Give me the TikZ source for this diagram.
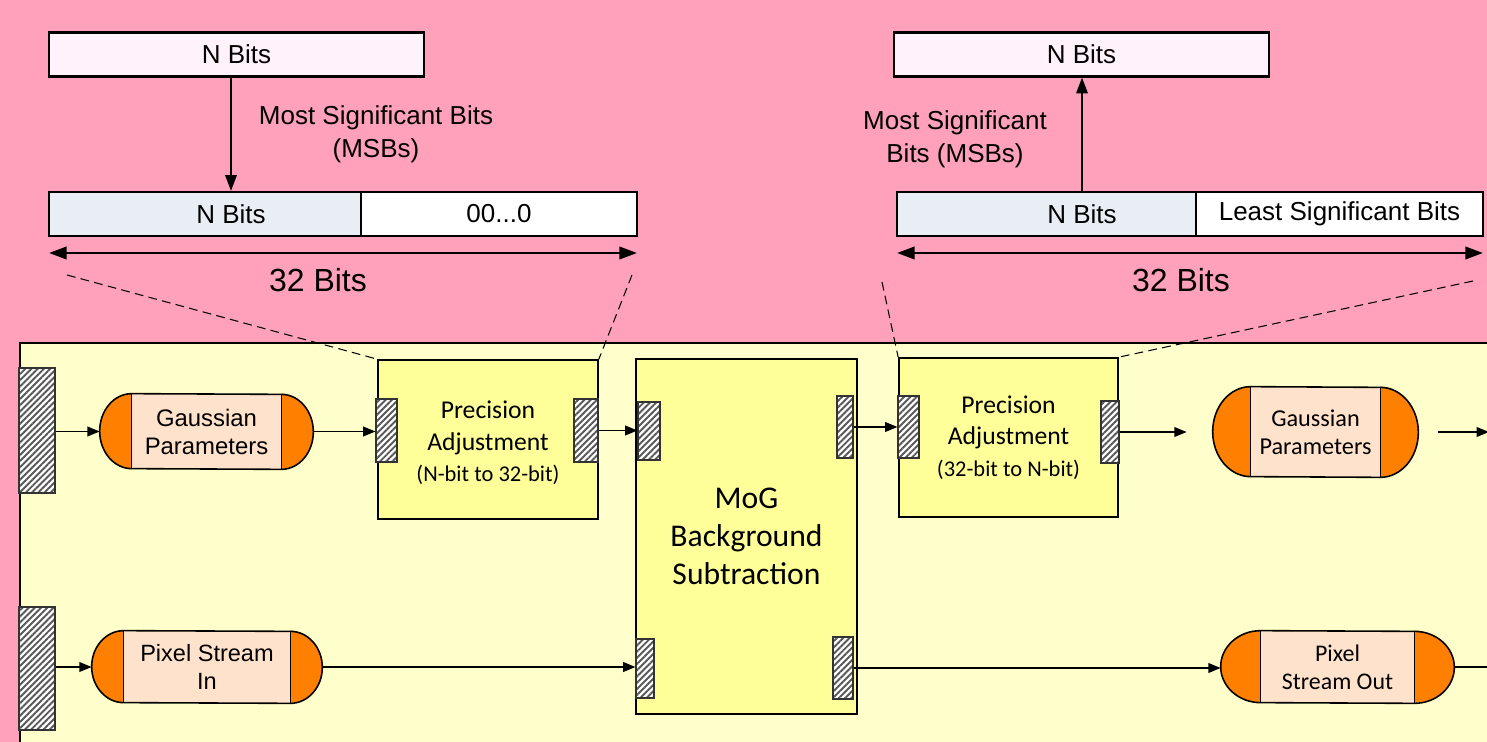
\documentclass[tikz,border=0pt]{standalone}
\usepackage{fontspec}
\setmainfont{Liberation Sans}
\newfontfamily\calibri{Carlito}
\usetikzlibrary{
    arrows.meta,
    patterns.meta,
    backgrounds,
    calc
}

\definecolor{pagepink}{RGB}{255,161,187}
\definecolor{panelyellow}{RGB}{255,255,204}
\definecolor{blockyellow}{RGB}{255,255,153}
\definecolor{caporange}{RGB}{255,128,0}
\definecolor{pillpeach}{RGB}{255,226,204}
\definecolor{wordpink}{RGB}{255,242,251}
\definecolor{msbgrey}{RGB}{232,238,244}

% capsule around a node: name, cap width, half height
\newcommand{\pill}[3]{%
    \fill[pillpeach] ([xshift=#2]#1.north west) rectangle ([xshift=-#2]#1.south east);
    \fill[caporange] ([xshift=#2]#1.north west) arc[start angle=90, end angle=270, x radius=#2, y radius=#3] -- cycle;
    \fill[caporange] ([xshift=-#2]#1.north east) arc[start angle=90, end angle=-90, x radius=#2, y radius=#3] -- cycle;
    \draw[line width=0.9pt] ([xshift=#2]#1.north west) -- ([xshift=#2]#1.south west)
        ([xshift=-#2]#1.north east) -- ([xshift=-#2]#1.south east);
    \draw[line width=0.9pt] ([xshift=#2]#1.north west) arc[start angle=90, end angle=270, x radius=#2, y radius=#3]
        -- ([xshift=-#2]#1.south east) arc[start angle=-90, end angle=90, x radius=#2, y radius=#3] -- cycle;
}

\begin{document}
\begin{tikzpicture}[x=0.02cm, y=-0.02cm,
    bitfont/.style={font=\fontsize{14.8}{18.8}\selectfont},
    bitbox/.style={bitfont, draw, line width=1.2pt, minimum height=0.88cm, inner sep=0pt},
    widthfont/.style={font=\fontsize{18.2}{20}\selectfont},
    port/.style={draw=black!80, line width=0.6pt, inner sep=0pt, preaction={fill=white},
        pattern={Lines[angle=45, distance=2.5pt, line width=1.1pt]}, pattern color=black!65},
    block/.style={draw, line width=1pt, fill=blockyellow, inner sep=0pt, align=center},
    pill/.style={inner sep=0pt, align=center},
    flow/.style={-{Triangle[length=7pt, width=5.5pt]}, line width=0.9pt},
    msb/.style={-{Triangle[length=9pt, width=6.5pt]}, line width=1.1pt},
    dimline/.style={{Triangle[length=10pt, width=7pt]}-{Triangle[length=10pt, width=7pt]}, line width=1.5pt},
    zoomline/.style={line width=0.6pt, dash pattern=on 5pt off 3pt}
]
    \useasboundingbox (0,0) rectangle (1487,742);
    \begin{scope}[on background layer]
        \fill[pagepink] (0,0) rectangle (1487,742);
        \draw[line width=0.8pt, fill=panelyellow] (20,343) rectangle (1494,750);
    \end{scope}

    % N bits widened to 32 bits
    \node[bitbox, fill=wordpink, minimum width=7.5cm] (wordA) at (236.5,54.5) {N Bits};
    \node[bitbox, fill=msbgrey, minimum width=6.24cm] (padA) at (205,214) {};
    \node[bitbox, fill=white, minimum width=5.52cm] (zeroA) at (499,214) {00...0};
    \node[bitfont] (msbA) at (231,214) {N Bits};
    \draw[msb] (wordA.south -| msbA) -- (msbA |- padA.north);
    \node[bitfont, align=center] (noteA) at (376,134) {Most Significant Bits\\(MSBs)};
    \coordinate (spanAw) at (49,253);
    \coordinate (spanAe) at (637,253);
    \draw[dimline] (spanAw) -- (spanAe);
    \node[widthfont] (bitsA) at (318,280) {32 Bits};

    % 32 bits cut back to N bits
    \node[bitbox, fill=wordpink, minimum width=7.5cm] (wordB) at (1081.5,54.5) {N Bits};
    \node[bitbox, fill=msbgrey, minimum width=5.98cm] (keepB) at (1046.5,214) {};
    \node[bitbox, fill=white, minimum width=5.74cm] (lsbB) at (1339.5,214) {Least Significant Bits};
    \node[bitfont] (msbB) at (1082,214) {N Bits};
    \draw[msb] (msbB |- keepB.north) -- (wordB.south -| msbB);
    \node[bitfont, align=center] (noteB) at (955,139) {Most Significant\\Bits (MSBs)};
    \coordinate (spanBw) at (897,253);
    \coordinate (spanBe) at (1483,253);
    \draw[dimline] (spanBw) -- (spanBe);
    \node[widthfont] (bitsB) at (1181,280) {32 Bits};

    % pipeline blocks
    \node[block, minimum width=4.4cm, minimum height=3.18cm,
        font=\calibri\fontsize{14.6}{18}\selectfont] (precA) at (488,439.5)
        {\rule{0pt}{14pt}Precision\\Adjustment\\{\fontsize{12.8}{16}\selectfont (N-bit to 32-bit)}};
    \node[block, minimum width=4.42cm, minimum height=7.1cm,
        font=\calibri\fontsize{18}{21.5}\selectfont] (mog) at (746.5,536.5)
        {MoG\\Background\\Subtraction};
    \node[block, minimum width=4.38cm, minimum height=3.18cm,
        font=\calibri\fontsize{14.6}{18}\selectfont] (precB) at (1008.5,437.5)
        {Precision\\Adjustment\\{\fontsize{12.8}{16}\selectfont (32-bit to N-bit)}};

    \draw[zoomline] (67,275) -- (precA.north west);
    \draw[zoomline] (632,275) -- (precA.north east);
    \draw[zoomline] (882,282) -- (precB.north west);
    \draw[zoomline] (1473,281) -- (precB.north east);

    % ports
    \node[port, minimum width=0.72cm, minimum height=2.5cm] (portInA) at (37,430.5) {};
    \node[port, minimum width=0.72cm, minimum height=2.46cm] (portInB) at (37,668.5) {};
    \node[port, minimum width=0.42cm, minimum height=1.26cm] (portA1) at (386.5,430.5) {};
    \node[port, minimum width=0.48cm, minimum height=1.26cm] (portA2) at (586,430.5) {};
    \node[port, minimum width=0.44cm, minimum height=1.16cm] (portM1) at (649,431) {};
    \node[port, minimum width=0.32cm, minimum height=1.24cm] (portM2) at (845,427) {};
    \node[port, minimum width=0.36cm, minimum height=1.18cm] (portM3) at (645,668.5) {};
    \node[port, minimum width=0.40cm, minimum height=1.24cm] (portM4) at (843,668) {};
    \node[port, minimum width=0.42cm, minimum height=1.24cm] (portB1) at (908.5,427) {};
    \node[port, minimum width=0.36cm, minimum height=1.24cm] (portB2) at (1110,432) {};

    % streams
    \node[pill, minimum width=4.26cm, minimum height=1.5cm,
        font=\fontsize{13.6}{15.9}\selectfont] (gpIn) at (206.5,431.5) {Gaussian\\Parameters};
    \node[pill, minimum width=4.1cm, minimum height=1.8cm,
        font=\calibri\fontsize{13.8}{15.9}\selectfont] (gpOut) at (1315.5,432) {Gaussian\\Parameters};
    \node[pill, minimum width=4.6cm, minimum height=1.44cm,
        font=\fontsize{13.4}{15.9}\selectfont] (pixIn) at (207,667) {Pixel Stream\\In};
    \node[pill, minimum width=4.66cm, minimum height=1.44cm,
        font=\calibri\fontsize{13.6}{15.9}\selectfont] (pixOut) at (1337.5,667) {Pixel\\Stream Out};
    \begin{scope}[on background layer]
        \pill{gpIn}{0.64cm}{0.75cm}
        \pill{gpOut}{0.76cm}{0.9cm}
        \pill{pixIn}{0.64cm}{0.72cm}
        \pill{pixOut}{0.8cm}{0.72cm}
    \end{scope}

    \coordinate (gpExit) at (1489,432);
    \coordinate (pixExit) at (1494,667);
    \draw[flow] (portInA.east |- gpIn.west) -- (gpIn.west);
    \draw[flow] (gpIn.east) -- (gpIn.east -| portA1.west);
    \draw[flow] (portA2.east) -- (portA2.east -| portM1.west);
    \draw[flow] (portM2.east) -- (portM2.east -| portB1.west);
    \draw[flow] (portB2.east) -- ([xshift=-0.52cm]gpOut.west |- portB2.east);
    \draw[flow] ([xshift=0.4cm]gpOut.east) -- (gpExit);
    \draw[flow] (portInB.east |- pixIn.west) -- (pixIn.west);
    \draw[flow] (pixIn.east) -- (pixIn.east -| portM3.west);
    \draw[flow] (portM4.east) -- (portM4.east -| pixOut.west);
    \draw[line width=0.9pt] (pixOut.east) -- (pixExit);
\end{tikzpicture}
\end{document}
